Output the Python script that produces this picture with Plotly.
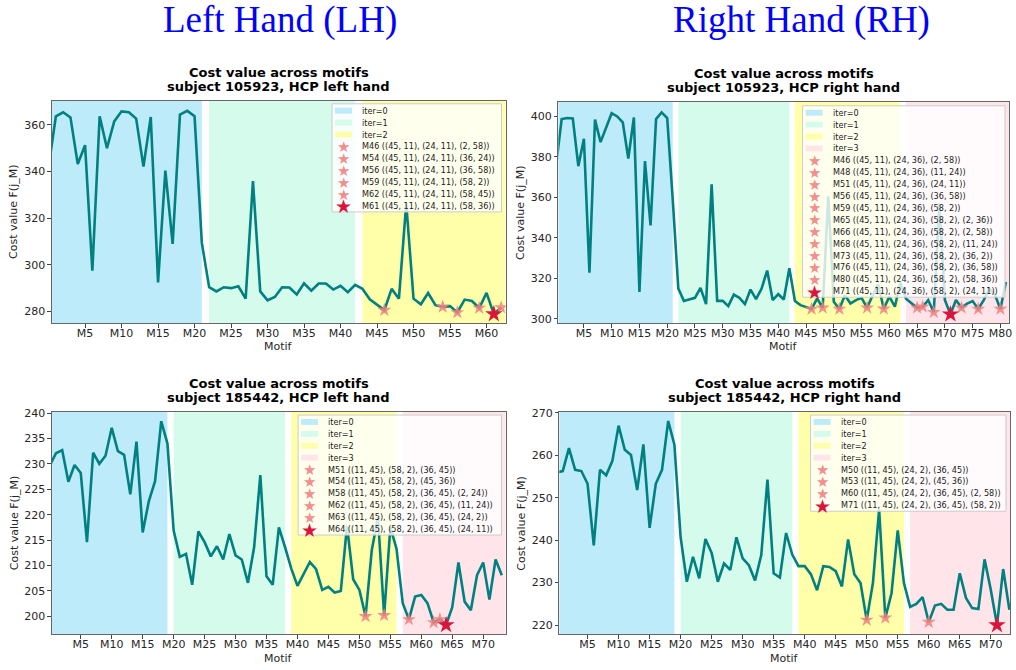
import plotly.graph_objects as go
from plotly.subplots import make_subplots

W, H = 1016, 670

# cost value F(j_M) per motif, index = motif number
cost_lh_105923 = [341.9, 363.7, 365.4, 363.2, 343.2, 351.3, 297.5, 363.7, 350.0, 361.5,
                  365.8, 365.4, 362.7, 342.1, 363.4, 292.5, 340.4, 309.0, 364.4, 366.0,
                  363.7, 309.4, 290.4, 288.6, 290.4, 290.0, 290.8, 285.5, 335.9, 288.6,
                  284.8, 286.2, 290.4, 290.3, 287.3, 292.1, 288.9, 292.0, 292.0, 289.4,
                  291.0, 288.3, 291.4, 289.7, 285.2, 282.7, 280.6, 289.7, 285.5, 326.3,
                  285.5, 283.1, 287.9, 282.7, 282.0, 282.3, 279.6, 285.1, 284.5, 281.5,
                  288.0, 278.9, 281.7]

cost_rh_105923 = [376.0, 398.7, 399.2, 399.0, 375.4, 389.0, 322.8, 398.4, 387.3, 394.6,
                  401.6, 400.0, 397.1, 379.2, 399.5, 313.3, 377.9, 346.2, 398.7, 402.0,
                  399.2, 358.9, 315.0, 308.9, 309.8, 310.4, 315.3, 307.3, 366.5, 308.9,
                  308.9, 306.3, 312.0, 310.4, 307.3, 314.5, 309.8, 315.0, 323.9, 309.3,
                  312.2, 309.6, 325.0, 308.8, 306.8, 306.0, 304.9, 310.0, 305.5, 360.5,
                  308.5, 304.9, 311.7, 307.6, 309.3, 310.4, 305.5, 311.7, 317.0, 305.0,
                  311.0, 306.0, 318.2, 310.0, 307.6, 305.5, 306.0, 309.3, 303.3, 357.0,
                  309.3, 302.3, 309.3, 305.5, 307.6, 308.8, 304.9, 309.3, 315.0, 312.0,
                  304.9, 318.2]

cost_lh_185442 = [229.7, 232.1, 232.7, 226.5, 229.8, 228.2, 214.6, 232.2, 230.0, 231.6,
                  237.1, 232.5, 231.8, 224.0, 234.4, 216.5, 222.7, 226.6, 238.4, 234.0,
                  216.9, 211.7, 212.3, 206.2, 216.7, 214.6, 211.8, 213.8, 211.2, 216.2,
                  212.0, 211.2, 206.6, 213.6, 227.8, 207.9, 206.2, 217.5, 213.6, 209.4,
                  206.0, 208.2, 210.7, 209.3, 205.2, 205.8, 204.7, 205.0, 217.8, 207.3,
                  205.2, 200.0, 213.0, 219.5, 200.2, 217.5, 213.3, 202.6, 199.4, 203.9,
                  204.2, 202.6, 198.8, 199.4, 198.3, 201.8, 210.6, 202.9, 201.2, 208.1,
                  210.6, 203.3, 211.2, 208.1]

cost_rh_185442 = [256.0, 256.3, 261.7, 256.6, 256.3, 253.3, 238.8, 256.6, 255.3, 258.7,
                  267.0, 261.3, 260.1, 251.8, 262.6, 242.9, 253.3, 256.6, 268.1, 262.5,
                  240.7, 230.2, 236.1, 231.0, 240.3, 237.0, 230.2, 234.5, 233.0, 240.7,
                  235.7, 234.1, 230.5, 236.5, 254.3, 232.2, 231.2, 241.7, 236.6, 233.9,
                  233.9, 232.0, 228.2, 233.9, 233.7, 232.7, 229.1, 240.2, 232.0, 229.9,
                  221.2, 229.9, 247.3, 221.7, 227.5, 242.3, 229.9, 224.3, 225.0, 226.6,
                  220.7, 224.6, 225.0, 223.6, 223.6, 232.2, 226.4, 224.0, 223.8, 235.5,
                  228.3, 220.0, 233.2, 223.6]

# first / last motif of each iteration
iter_start_lh_105923 = [0, 22, 43]
iter_end_lh_105923 = [21, 42, 63]
iter_start_rh_105923 = [0, 22, 43, 63]
iter_end_rh_105923 = [21, 42, 62, 82]
iter_start_185442 = [0, 20, 39, 57]
iter_end_185442 = [19, 38, 56, 74]

# selected motifs (last one = best, drawn in red)
stars_lh_105923 = [46, 54, 56, 59, 62, 61]
labels_lh_105923 = ['M46 ((45, 11), (24, 11), (2, 58))',
                    'M54 ((45, 11), (24, 11), (36, 24))',
                    'M56 ((45, 11), (24, 11), (36, 58))',
                    'M59 ((45, 11), (24, 11), (58, 2))',
                    'M62 ((45, 11), (24, 11), (58, 45))',
                    'M61 ((45, 11), (24, 11), (58, 36))']

stars_rh_105923 = [46, 48, 51, 56, 59, 65, 66, 68, 73, 76, 80, 71]
labels_rh_105923 = ['M46 ((45, 11), (24, 36), (2, 58))',
                    'M48 ((45, 11), (24, 36), (11, 24))',
                    'M51 ((45, 11), (24, 36), (24, 11))',
                    'M56 ((45, 11), (24, 36), (36, 58))',
                    'M59 ((45, 11), (24, 36), (58, 2))',
                    'M65 ((45, 11), (24, 36), (58, 2), (2, 36))',
                    'M66 ((45, 11), (24, 36), (58, 2), (2, 58))',
                    'M68 ((45, 11), (24, 36), (58, 2), (11, 24))',
                    'M73 ((45, 11), (24, 36), (58, 2), (36, 2))',
                    'M76 ((45, 11), (24, 36), (58, 2), (36, 58))',
                    'M80 ((45, 11), (24, 36), (58, 2), (58, 36))',
                    'M71 ((45, 11), (24, 36), (58, 2), (24, 11))']

stars_lh_185442 = [51, 54, 58, 62, 63, 64]
labels_lh_185442 = ['M51 ((11, 45), (58, 2), (36, 45))',
                    'M54 ((11, 45), (58, 2), (45, 36))',
                    'M58 ((11, 45), (58, 2), (36, 45), (2, 24))',
                    'M62 ((11, 45), (58, 2), (36, 45), (11, 24))',
                    'M63 ((11, 45), (58, 2), (36, 45), (24, 2))',
                    'M64 ((11, 45), (58, 2), (36, 45), (24, 11))']

stars_rh_185442 = [50, 53, 60, 71]
labels_rh_185442 = ['M50 ((11, 45), (24, 2), (36, 45))',
                    'M53 ((11, 45), (24, 2), (45, 36))',
                    'M60 ((11, 45), (24, 2), (36, 45), (2, 58))',
                    'M71 ((11, 45), (24, 2), (36, 45), (58, 2))']

titles = ['subject 105923, HCP left hand', 'subject 105923, HCP right hand',
          'subject 185442, HCP left hand', 'subject 185442, HCP right hand']

band_colors = ['#BDEBFA', '#D5FBEC', '#FFFFAA', '#FFE5EA']
FONT = 'DejaVu Sans'

panels = [
    dict(cost=cost_lh_105923, start=iter_start_lh_105923, end=iter_end_lh_105923,
         stars=stars_lh_105923, labels=labels_lh_105923,
         box=(52, 97, 507, 322), xr=[0.45, 62.6], yr=[275, 370.3],
         yt=list(range(280, 361, 20)), xt=list(range(5, 61, 5)), leg=(333, 100, 503)),
    dict(cost=cost_rh_105923, start=iter_start_rh_105923, end=iter_end_rh_105923,
         stars=stars_rh_105923, labels=labels_rh_105923,
         box=(560, 98, 1012, 322), xr=[0.4, 81.55], yr=[297.9, 407.2],
         yt=list(range(300, 401, 20)), xt=list(range(5, 81, 5)), leg=(805, 102, 1008)),
    dict(cost=cost_lh_185442, start=iter_start_185442, end=iter_end_185442,
         stars=stars_lh_185442, labels=labels_lh_185442,
         box=(52, 412, 507, 637), xr=[0.33, 73.6], yr=[196.45, 240.2],
         yt=list(range(200, 241, 5)), xt=list(range(5, 71, 5)), leg=(299, 415, 503)),
    dict(cost=cost_rh_185442, start=iter_start_185442, end=iter_end_185442,
         stars=stars_rh_185442, labels=labels_rh_185442,
         box=(561, 412, 1013, 637), xr=[0.45, 73.1], yr=[217.8, 270.2],
         yt=list(range(220, 271, 10)), xt=list(range(5, 71, 5)), leg=(813, 415, 1009)),
]


def fx(px):
    return px / W


def fy(py):
    return 1 - py / H


fig = make_subplots(rows=2, cols=2)
ann = []
shapes_top = []

for k, p in enumerate(panels):
    r, c = k // 2 + 1, k % 2 + 1
    cost = p['cost']
    motifs = list(range(len(cost)))
    for a, b, col in zip(p['start'], p['end'], band_colors):
        fig.add_vrect(x0=a, x1=b, fillcolor=col, opacity=1, line_width=0,
                      layer='below', row=r, col=c, exclude_empty_subplots=False)
    fig.add_trace(go.Scatter(x=motifs, y=cost, mode='lines',
                             line=dict(color='#008080', width=2.6),
                             showlegend=False, hoverinfo='skip'), row=r, col=c)
    n = len(p['stars'])
    for i, m in enumerate(p['stars']):
        best = i == n - 1
        fig.add_trace(go.Scatter(x=[m], y=[cost[m]], mode='markers',
                                 marker=dict(symbol='star', size=13 if best else 10.5,
                                             color='#DC143C' if best else 'rgba(240,128,128,0.85)',
                                             line_width=0),
                                 showlegend=False), row=r, col=c)

    x0, y0, x1, y1 = p['box']
    sfx = '' if k == 0 else str(k + 1)
    fig.layout['xaxis' + sfx].update(domain=[fx(x0), fx(x1)], range=p['xr'],
                                     tickvals=p['xt'], ticktext=['M%d' % v for v in p['xt']])
    fig.layout['yaxis' + sfx].update(domain=[fy(y1), fy(y0)], range=p['yr'], tickvals=p['yt'])

    # titles and axis labels
    xc = (x0 + x1) / 2
    ann.append(dict(text='<b>Cost value across motifs</b>', x=fx(xc), y=fy(y0 - 29),
                    font=dict(size=13, color='black')))
    ann.append(dict(text='<b>' + titles[k] + '</b>', x=fx(xc), y=fy(y0 - 15),
                    font=dict(size=13, color='black')))
    ann.append(dict(text='Motif', x=fx(xc), y=fy(y1 + 24), font=dict(size=11, color='#262626')))
    ann.append(dict(text='Cost value F(j_M)', x=fx(x0 - 38), y=fy((y0 + y1) / 2),
                    textangle=-90, font=dict(size=11, color='#262626')))

    # legend drawn by hand (matplotlib-like compact rows)
    lx, ly, rx = p['leg']
    nb = len(p['start'])
    rows = nb + n
    step = 12.05
    bottom = ly + 7 + step * (rows - 1) + 6
    shapes_top.append(dict(type='rect', xref='paper', yref='paper', x0=fx(lx), x1=fx(rx),
                           y0=fy(bottom), y1=fy(ly), fillcolor='rgba(255,255,255,0.8)',
                           line=dict(color='#cccccc', width=1), layer='above'))
    for j in range(rows):
        cy = ly + 7 + step * j
        if j < nb:
            shapes_top.append(dict(type='rect', xref='paper', yref='paper',
                                   x0=fx(lx + 3), x1=fx(lx + 20), y0=fy(cy + 3), y1=fy(cy - 3),
                                   fillcolor=band_colors[j], line_width=0, layer='above'))
            txt = 'iter=%d' % j
        else:
            i = j - nb
            best = i == n - 1
            ann.append(dict(text='★', x=fx(lx + 11.5), y=fy(cy + 0.5),
                            xanchor='center',
                            font=dict(size=19 if best else 15,
                                      color='#DC143C' if best else 'rgba(240,128,128,0.9)')))
            txt = p['labels'][i]
        ann.append(dict(text=txt, x=fx(lx + 28), y=fy(cy), xanchor='left',
                        font=dict(size=8.1, color='#1a1a1a')))

ann.append(dict(text='Left Hand (LH)', x=fx(281), y=fy(15),
                font=dict(family='Liberation Serif', size=37, color='#0000FF')))
ann.append(dict(text='Right Hand (RH)', x=fx(804), y=fy(15),
                font=dict(family='Liberation Serif', size=37, color='#0000FF')))

for a in ann:
    a.setdefault('xanchor', 'center')
    a.update(xref='paper', yref='paper', yanchor='middle', showarrow=False)
    a['font'].setdefault('family', FONT)

fig.update_xaxes(showline=True, mirror=True, linecolor='#666666', linewidth=1,
                 ticks='outside', ticklen=3.5, tickcolor='#444444', showgrid=False,
                 zeroline=False, ticklabelstandoff=-4,
                 tickfont=dict(family=FONT, size=11, color='#262626'))
fig.update_yaxes(showline=True, mirror=True, linecolor='#666666', linewidth=1,
                 ticks='outside', ticklen=3.5, tickcolor='#444444', showgrid=False,
                 zeroline=False, tickfont=dict(family=FONT, size=11, color='#262626'))

fig.update_layout(width=W, height=H, margin=dict(l=0, r=0, t=0, b=0),
                  paper_bgcolor='white', plot_bgcolor='white', showlegend=False,
                  annotations=ann, font=dict(family=FONT))
for s in shapes_top:
    fig.add_shape(**s)

# page body has an 8px default margin; drop it so the figure sits at (0, 0)
fig.write_html("out.html", config={'displayModeBar': False},
               post_script="document.body.style.margin='0px';")
